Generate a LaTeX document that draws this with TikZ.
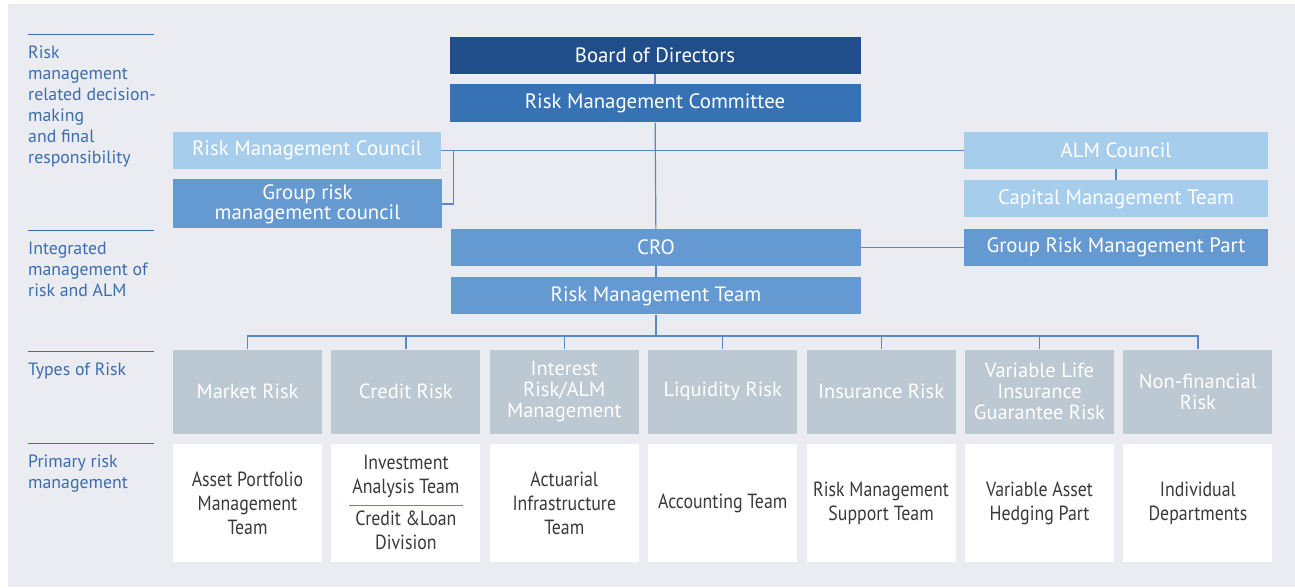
\documentclass[tikz,border=0pt]{standalone}
\usepackage{fontspec}
\setmainfont{PT Sans}
\newfontfamily\condfont[FakeStretch=0.87]{PT Sans}
\usetikzlibrary{positioning}

\definecolor{bgcol}{HTML}{EBECF1}
\definecolor{boardcol}{HTML}{1F4E8A}
\definecolor{cmtcol}{HTML}{3773B4}
\definecolor{lightcol}{HTML}{A7CDED}
\definecolor{midcol}{HTML}{6499D1}
\definecolor{riskcol}{HTML}{BCC8D2}
\definecolor{linkcol}{HTML}{5A88C4}
\definecolor{labelcol}{HTML}{3A6DB0}
\definecolor{primtext}{HTML}{3A3A3A}

\begin{document}
\begin{tikzpicture}[x=1pt, y=-1pt, node distance=10pt,
    box/.style={minimum height=37pt, inner sep=0pt, text=white, align=center, font=\fontsize{20.8}{20}\selectfont},
    riskbox/.style={box, fill=riskcol, minimum width=149pt, minimum height=84pt, font=\fontsize{20.5}{21}\selectfont},
    primbox/.style={fill=white, minimum width=149pt, minimum height=118pt, inner sep=0pt, align=center, text=primtext, font=\condfont\fontsize{20.5}{24}\selectfont},
    sidelabel/.style={anchor=north west, inner sep=0pt, align=left, text=labelcol, font=\fontsize{17.8}{21}\selectfont},
    siderule/.style={draw=labelcol, line width=1pt},
    link/.style={draw=linkcol, line width=1.2pt}]
    \useasboundingbox (0,0) rectangle (1295,587);
    \fill[bgcol] (8,4) rectangle (1295,587);

    % decision-making level
    \node[box, fill=boardcol, minimum width=411pt] (board) at (655,55.5) {Board of Directors};
    \node[box, fill=cmtcol, minimum width=411pt, minimum height=38pt, below=of board] (committee) {Risk Management Committee};
    \node[box, fill=lightcol, minimum width=268pt] (rmc) at (307,150.5) {Risk Management Council};
    \node[box, fill=midcol, minimum width=269pt, minimum height=49pt, below=of rmc, xshift=0.5pt] (grpc) {Group risk\\management council};
    \node[box, fill=lightcol, minimum width=304pt] (alm) at (1116,150.5) {ALM Council};
    \node[box, fill=lightcol, minimum width=304pt, below=11pt of alm] (capital) {Capital Management Team};

    % integrated management
    \node[box, fill=midcol, minimum width=410pt] (cro) at (656,247.5) {CRO};
    \node[box, fill=midcol, minimum width=304pt] (grmp) at (1116,247.5) {Group Risk Management Part};
    \node[box, fill=midcol, minimum width=410pt, below=11pt of cro] (rmt) {Risk Management Team};

    % types of risk
    \node[riskbox] (risk1) at (247.5,391.5) {Market Risk};
    \node[riskbox, right=9pt of risk1] (risk2) {Credit Risk};
    \node[riskbox, right=9pt of risk2] (risk3) {Interest\\Risk/ALM\\Management};
    \node[riskbox, right=9pt of risk3] (risk4) {Liquidity Risk};
    \node[riskbox, right=9pt of risk4] (risk5) {Insurance Risk};
    \node[riskbox, right=9pt of risk5] (risk6) {Variable Life\\Insurance\\Guarantee Risk};
    \node[riskbox, right=9pt of risk6] (risk7) {Non-financial\\Risk};

    % primary risk management
    \node[primbox, below=of risk1] (prim1) {Asset Portfolio\\Management\\Team};
    \node[primbox, below=of risk2] (prim2) {};
    \node[primbox, below=of risk3] (prim3) {Actuarial\\Infrastructure\\Team};
    \node[primbox, below=of risk4] (prim4) {Accounting Team};
    \node[primbox, below=of risk5] (prim5) {Risk Management\\Support Team};
    \node[primbox, below=of risk6] (prim6) {Variable Asset\\Hedging Part};
    \node[primbox, below=of risk7] (prim7) {Individual\\Departments};
    \node[primbox, minimum width=0pt, minimum height=0pt, anchor=south] (invest) at ([yshift=5pt]prim2.center) {Investment\\Analysis Team};
    \node[primbox, minimum width=0pt, minimum height=0pt, anchor=north] (credit) at ([yshift=-8pt]prim2.center) {Credit \&Loan\\Division};
    \draw[link, line width=1pt] ([xshift=-57pt,yshift=-3pt]prim2.center) -- ([xshift=57pt,yshift=-3pt]prim2.center);

    % connectors
    \coordinate (bus) at (656,336);
    \draw[link] (board) -- (committee);
    \draw[link] (committee) -- (cro);
    \draw[link] (cro) -- (rmt);
    \draw[link] (rmt) -- (bus);
    \draw[link] (rmc) -- (alm);
    \draw[link] (grpc.east) -- ++(11,0) |- (rmc.east);
    \draw[link] (alm) -- (capital);
    \draw[link] (cro) -- (grmp);
    \draw[link] (risk1.north) |- (bus) -| (risk7.north);
    \foreach \i in {2,...,6}
        \draw[link] (risk\i.north) -- (risk\i.north |- bus);

    % level labels
    \draw[siderule] (28,34) -- (154,34);
    \draw[siderule] (28,230) -- (154,230);
    \draw[siderule] (28,351) -- (154,351);
    \draw[siderule] (28,443) -- (154,443);
    \node[sidelabel] (lab1) at (28,46) {Risk\\management\\related decision-\\making\\and final\\responsibility};
    \node[sidelabel] (lab2) at (28,242) {Integrated\\management of\\risk and ALM};
    \node[sidelabel] (lab3) at (28,363) {Types of Risk};
    \node[sidelabel] (lab4) at (28,455) {Primary risk\\management};
\end{tikzpicture}
\end{document}
